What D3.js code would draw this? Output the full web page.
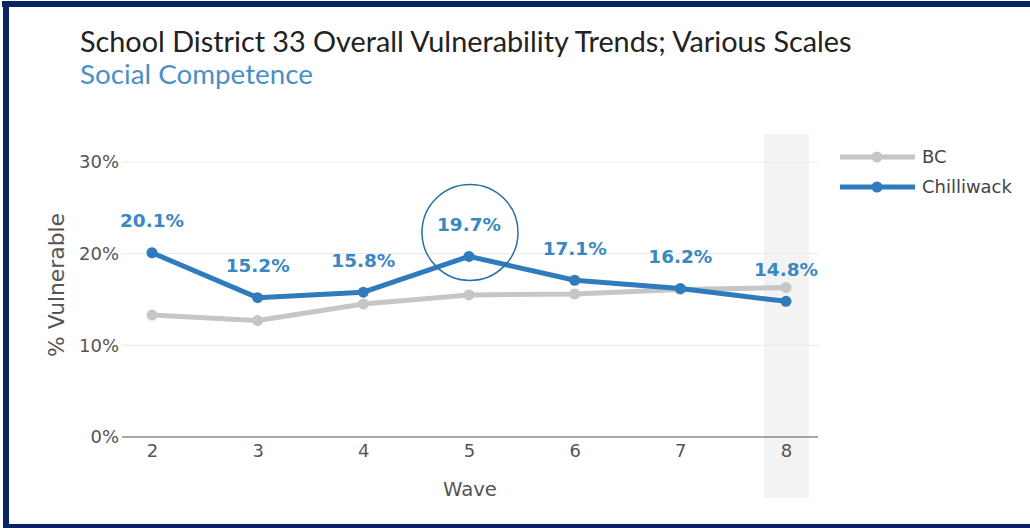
<!DOCTYPE html>
<html>
<head>
<meta charset="utf-8">
<script src="https://cdn.jsdelivr.net/npm/d3@7"></script>
<style>
  html, body { margin: 0; padding: 0; background: #fff; }
  svg { display: block; }
  text { font-family: "DejaVu Sans", Verdana, sans-serif; }
  .ttl { font-family: Lato, "Open Sans", sans-serif; }
</style>
</head>
<body>
<svg id="chart" width="1030" height="528"></svg>
<script>
const waves = [2, 3, 4, 5, 6, 7, 8];
const bcValues = [13.3, 12.7, 14.5, 15.5, 15.6, 16.1, 16.3];
const chilliwackValues = [20.1, 15.2, 15.8, 19.7, 17.1, 16.2, 14.8];
const yTicks = [0, 10, 20, 30];
const seriesNames = ["BC", "Chilliwack"];
const highlightWave = 5;
const shadedWave = 8;

const svg = d3.select("#chart");
const W = 1030, H = 528;
const blue = "#2f7bbd", gray = "#c6c6c6", labelBlue = "#3a88c2";

// size a text so its rendered width matches a target width
function fit(sel, base, target) {
  sel.attr("font-size", base);
  const w = sel.node().getComputedTextLength();
  sel.attr("font-size", base * target / w);
  return base * target / w;
}

// frame
svg.append("rect").attr("x", 0).attr("y", 0).attr("width", W).attr("height", H).attr("fill", "#fff");
svg.append("rect").attr("x", 2).attr("y", 1).attr("width", W - 2).attr("height", 6).attr("fill", "#0a2461");
svg.append("rect").attr("x", 3).attr("y", 1).attr("width", 6).attr("height", H - 1).attr("fill", "#0a2461");
svg.append("rect").attr("x", 3).attr("y", 524).attr("width", W - 3).attr("height", 4).attr("fill", "#0a2461");

const x = d3.scalePoint().domain(waves).range([152, 786]);
const y = d3.scaleLinear().domain([0, 30]).range([437, 162]);
const plotLeft = 122, plotRight = 818;

// shaded band for latest wave
svg.append("rect")
  .attr("x", x(shadedWave) - 22).attr("y", 134)
  .attr("width", 45).attr("height", 364)
  .attr("fill", "#f3f3f3");

// gridlines
svg.append("g").selectAll("line").data(yTicks.filter(d => d > 0)).join("line")
  .attr("x1", plotLeft).attr("x2", plotRight)
  .attr("y1", d => y(d)).attr("y2", d => y(d))
  .attr("stroke", "#ececec").attr("stroke-width", 1.2);

// y axis labels
const yAxis = d3.axisLeft(y).tickValues(yTicks).tickFormat(d => d + "%").tickSize(0).tickPadding(0);
const gy = svg.append("g").attr("transform", `translate(119,0)`).call(yAxis);
gy.select(".domain").remove();
const tickFs = fit(gy.selectAll("text").filter(d => d === 30), 17, 40);
gy.selectAll("text").attr("font-size", tickFs).attr("fill", "#555");

// x axis
const xAxis = d3.axisBottom(x).tickSize(0).tickPadding(7);
const gx = svg.append("g").attr("transform", `translate(0,${y(0)})`).call(xAxis);
gx.select(".domain").remove();
gx.selectAll("text").attr("font-size", tickFs).attr("fill", "#555");
svg.append("line").attr("x1", plotLeft).attr("x2", plotRight)
  .attr("y1", y(0)).attr("y2", y(0)).attr("stroke", "#8a8a8a").attr("stroke-width", 1.6);

// axis titles
const wt = svg.append("text").attr("x", 470).attr("y", 496).attr("text-anchor", "middle")
  .attr("fill", "#555").text("Wave");
fit(wt, 19, 54);
const yt = svg.append("text").attr("transform", "translate(64,285) rotate(-90)").attr("text-anchor", "middle")
  .attr("fill", "#555").text("% Vulnerable");
fit(yt, 21, 144);

// title
const title = svg.append("text").attr("class", "ttl").attr("x", 80).attr("y", 52).attr("fill", "#222")
  .text("School District 33 Overall Vulnerability Trends; Various Scales");
fit(title, 24, 772);
const sub = svg.append("text").attr("class", "ttl").attr("x", 80).attr("y", 84).attr("fill", "#4a90c4")
  .text("Social Competence");
fit(sub, 22, 233);

// lines
const line = d3.line().x((d, i) => x(waves[i])).y(d => y(d));
const series = [
  { name: seriesNames[0], values: bcValues, color: gray },
  { name: seriesNames[1], values: chilliwackValues, color: blue }
];
series.forEach(s => {
  svg.append("path").datum(s.values).attr("d", line)
    .attr("fill", "none").attr("stroke", s.color).attr("stroke-width", 5)
    .attr("stroke-linejoin", "round");
  svg.append("g").selectAll("circle").data(s.values).join("circle")
    .attr("cx", (d, i) => x(waves[i])).attr("cy", d => y(d)).attr("r", 5.5)
    .attr("fill", s.color);
});

// data labels
const labels = svg.append("g").selectAll("text").data(chilliwackValues).join("text")
  .attr("x", (d, i) => x(waves[i])).attr("y", d => y(d) - 32)
  .attr("dy", "0.35em").attr("text-anchor", "middle")
  .attr("font-weight", "bold").attr("fill", labelBlue)
  .text(d => d.toFixed(1) + "%");
const lblFs = fit(labels.filter((d, i) => i === 0), 16, 64);
labels.attr("font-size", lblFs);

// highlight circle
const hi = waves.indexOf(highlightWave);
svg.append("circle").attr("cx", x(highlightWave) + 1).attr("cy", y(chilliwackValues[hi]) - 24)
  .attr("r", 48).attr("fill", "none").attr("stroke", "#2c6fa8").attr("stroke-width", 1.5);

// legend
const leg = svg.append("g");
let legFs = 17;
series.forEach((s, i) => {
  const ly = 157 + i * 30;
  leg.append("line").attr("x1", 840).attr("x2", 915).attr("y1", ly).attr("y2", ly)
    .attr("stroke", s.color).attr("stroke-width", 5);
  leg.append("circle").attr("cx", 877).attr("cy", ly).attr("r", 5.5).attr("fill", s.color);
  const t = leg.append("text").attr("x", 922).attr("y", ly).attr("dy", "0.35em")
    .attr("font-size", 17).attr("fill", "#444").text(s.name);
  if (s.name === "Chilliwack") legFs = fit(t, 17, 90);
});
leg.selectAll("text").attr("font-size", legFs);
</script>
</body>
</html>
